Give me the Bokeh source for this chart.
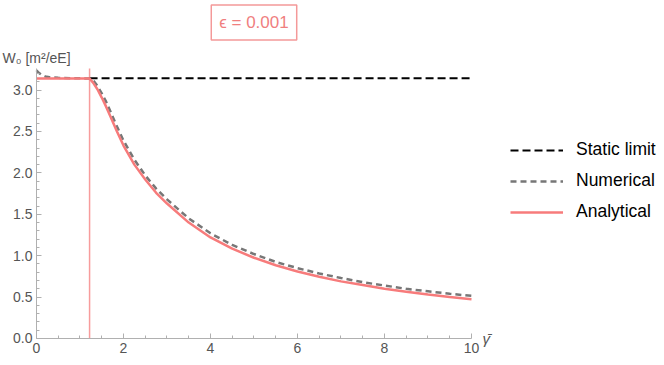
from bokeh.plotting import figure
from bokeh.models import (Label, Legend, LegendItem, FixedTicker, PrintfTickFormatter, Range1d)
from bokeh.embed import file_html
from bokeh.resources import INLINE

FONT = "Liberation Sans"

# ---- data ----
gamma_c = 1.22
y_top = 3.26
vline_x = [1.22, 1.22]
vline_y = [0.0, 3.26]
static_x = [1.22, 10.0]
static_y = [3.1416, 3.1416]

num_x = [0.0, 0.05, 0.1, 0.2, 0.3, 0.5, 0.8, 1.0, 1.22, 1.3, 1.4, 1.5, 1.6, 1.7, 1.85,
         2.0, 2.25, 2.5, 2.75, 3.0, 3.5, 4.0, 4.5, 5.0, 5.5, 6.0, 6.5, 7.0, 7.5, 8.0,
         8.5, 9.0, 9.5, 10.0]
num_y = [3.24, 3.21, 3.19, 3.165, 3.155, 3.148, 3.144, 3.142, 3.14, 3.12, 3.05, 2.96, 2.86,
         2.74, 2.56, 2.39, 2.16, 1.97, 1.81, 1.68, 1.45, 1.27, 1.13, 1.02, 0.925, 0.85,
         0.785, 0.73, 0.68, 0.64, 0.60, 0.57, 0.54, 0.515]

ana_x = [0.0, 1.22, 1.3, 1.4, 1.5, 1.6, 1.7, 1.85, 2.0, 2.25, 2.5, 2.75, 3.0, 3.5, 4.0,
         4.5, 5.0, 5.5, 6.0, 6.5, 7.0, 7.5, 8.0, 8.5, 9.0, 9.5, 10.0]
ana_y = [3.14, 3.14, 3.09, 3.01, 2.91, 2.80, 2.68, 2.50, 2.33, 2.10, 1.92, 1.76, 1.63,
         1.40, 1.22, 1.085, 0.975, 0.885, 0.81, 0.745, 0.69, 0.645, 0.60, 0.565, 0.53,
         0.50, 0.475]

x_ticks = [0, 2, 4, 6, 8, 10]
x_minor = [0.5, 1, 1.5, 2.5, 3, 3.5, 4.5, 5, 5.5, 6.5, 7, 7.5, 8.5, 9, 9.5]
y_ticks = [0.0, 0.5, 1.0, 1.5, 2.0, 2.5, 3.0]
y_minor = [0.1, 0.2, 0.3, 0.4, 0.6, 0.7, 0.8, 0.9, 1.1, 1.2, 1.3, 1.4, 1.6, 1.7, 1.8, 1.9,
           2.1, 2.2, 2.3, 2.4, 2.6, 2.7, 2.8, 2.9, 3.1, 3.2]

title_text = "ϵ = 0.001"
y_label = "W₀ [m²/eE]"
x_label = "γ̄"

RED = "#f77b7b"
PINK = "#f79c9c"
AXIS = "#b0b0b0"
TXT = "#555555"

# The frame fills the whole canvas; the axes sit at x = 0 and y = 0 (fixed_location)
# and are bounded, so titles, legend and axis names all lie inside the frame.
p = figure(width=664, height=365, output_backend="svg", toolbar_location=None,
           title_location=None,
           x_range=Range1d(-0.8276, 14.437), y_range=Range1d(-0.3261, 4.082),
           min_border=0)
p.outline_line_color = None
p.grid.visible = False

p.line(vline_x, vline_y, line_color=PINK, line_width=1.5)
r_static = p.line(static_x, static_y, line_color="black", line_width=2, line_dash="8 4")
r_num = p.line(num_x, num_y, line_color="#777777", line_width=2.5, line_dash="6 4")
r_ana = p.line(ana_x, ana_y, line_color=RED, line_width=2.5)

for ax in (p.xaxis[0], p.yaxis[0]):
    ax.fixed_location = 0
    ax.axis_line_color = AXIS
    ax.major_tick_line_color = AXIS
    ax.minor_tick_line_color = AXIS
    ax.major_tick_in = 5
    ax.major_tick_out = 0
    ax.minor_tick_in = 3
    ax.minor_tick_out = 0
    ax.major_label_text_font = FONT
    ax.major_label_text_font_size = "14px"
    ax.major_label_text_color = TXT

p.xaxis.bounds = (0, 10)
p.yaxis.bounds = (0, y_top)
p.xaxis.ticker = FixedTicker(ticks=x_ticks, minor_ticks=x_minor)
p.yaxis.ticker = FixedTicker(ticks=y_ticks, minor_ticks=y_minor)
p.yaxis.formatter = PrintfTickFormatter(format="%.1f")
p.xaxis.major_label_standoff = 5
p.yaxis.major_label_standoff = 4

p.add_layout(Label(x=10, y=0, x_offset=11, y_offset=0, text=x_label, text_align="left",
                   text_baseline="middle", text_font=FONT, text_font_size="15px",
                   text_font_style="italic", text_color=TXT))
p.add_layout(Label(x=0, y=y_top, x_offset=-34, y_offset=11, text=y_label, text_align="left",
                   text_baseline="alphabetic", text_font=FONT, text_font_size="14px",
                   text_color=TXT))
p.add_layout(Label(x=5, y=y_top, y_offset=46, text=title_text, text_align="center",
                   text_baseline="middle", text_font=FONT, text_font_size="17px",
                   text_color="#f07f7f", border_line_color="#f49999", border_line_width=1.5,
                   background_fill_color="white", padding=8))

legend = Legend(items=[LegendItem(label="Static limit", renderers=[r_static]),
                       LegendItem(label="Numerical", renderers=[r_num]),
                       LegendItem(label="Analytical", renderers=[r_ana])],
                location=(510, 143))
legend.label_text_font = FONT
legend.label_text_font_size = "17.5px"
legend.label_text_color = "black"
legend.glyph_width = 53
legend.glyph_height = 20
legend.label_height = 20
legend.label_standoff = 13
legend.spacing = 10
legend.padding = 0
legend.margin = 0
legend.border_line_color = None
legend.background_fill_alpha = 0
p.add_layout(legend)

open("out.html", "w").write(file_html(p, INLINE))
